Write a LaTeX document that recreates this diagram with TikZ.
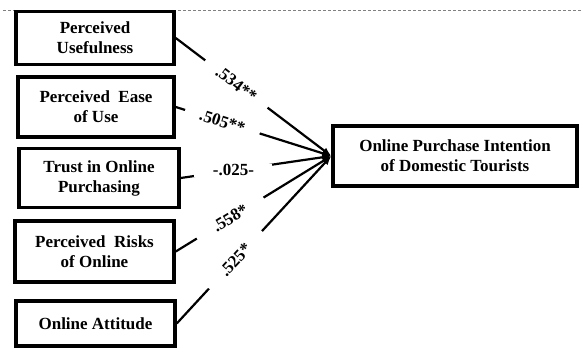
\documentclass[tikz,border=0pt]{standalone}
\usepackage{fontspec}
\setmainfont{Liberation Serif}
\usetikzlibrary{arrows.meta}

\begin{document}
\begin{tikzpicture}[x=1pt,y=-1pt]
\tikzset{>={Latex[width=7pt,length=9pt]}}
\tikzstyle{factor} =[draw,line width=3.5pt,fill=white,align=center,inner sep=0pt,font=\fontsize{17}{20}\selectfont\bfseries]
\tikzstyle{coef} =[fill=white,minimum width=78pt,inner xsep=0pt,inner ysep=1pt,font=\fontsize{17}{18}\selectfont\bfseries]

\useasboundingbox (0,0) rectangle (583,358);
\draw[gray,line width=0.8pt,dash pattern=on 3pt off 2pt] (3,10) -- (583,10);

\node[factor,minimum width=158pt,minimum height=53pt](pu) at (95,38){Perceived\\Usefulness};
\node[factor,minimum width=156pt,minimum height=60pt](peou) at (96,107){Perceived~ Ease\\of Use};
\node[factor,minimum width=160pt,minimum height=59pt](trust) at (99,178){Trust in Online\\Purchasing};
\node[factor,minimum width=159pt,minimum height=61pt](risk) at (94.5,251.5){Perceived~ Risks\\of Online};
\node[factor,minimum width=159pt,minimum height=45pt](att) at (95.5,323.5){Online Attitude};
\node[factor,minimum width=244pt,minimum height=60pt](intent) at (455,156){Online Purchase Intention\\of Domestic Tourists};

\draw [->,line width=2.2pt] (pu.east) -- node[coef,sloped,pos=0.39]{.534**} (intent.west);
\draw [->,line width=2.2pt] (peou.east) -- node[coef,sloped,pos=0.30]{.505**} (intent.west);
\draw [->,line width=2.2pt] (trust.east) -- node[coef,pos=0.35]{-.025-} (intent.west);
\draw [->,line width=2.2pt] (risk.east) -- node[coef,sloped,pos=0.35]{.558*} (intent.west);
\draw [->,line width=2.2pt] (att.east) -- node[coef,sloped,pos=0.38]{.525*} (intent.west);
\end{tikzpicture}
\end{document}
